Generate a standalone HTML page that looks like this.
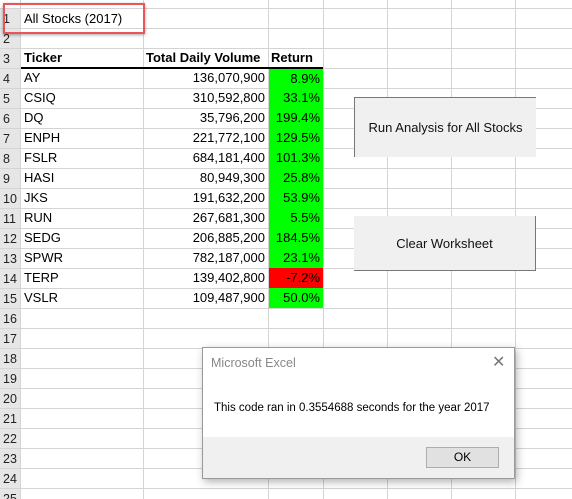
<!DOCTYPE html>
<html style="width:572px;height:499px;overflow:hidden;"><head><meta charset="utf-8"><style>
body{margin:0;width:572px;height:499px;overflow:hidden;background:#fff;position:relative;font-family:"Liberation Sans",Calibri,sans-serif;}
.a{position:absolute;}
.hl{position:absolute;background:#d4d4d4;height:1px;}
.vl{position:absolute;background:#d4d4d4;width:1px;}
.cell{position:absolute;font-size:13px;line-height:20px;height:20px;color:#000;white-space:nowrap;}
.rh{position:absolute;left:0;width:20px;height:19px;background:#e6e6e6;font-size:12.5px;line-height:20px;color:#222;padding-left:3px;box-sizing:border-box;}
.btn{position:absolute;background:#f0f0f0;font-size:13px;text-align:center;color:#111;}
</style></head><body>
<div id="sheet" style="position:absolute;left:0;top:0;width:572px;height:499px;overflow:hidden;"></div>
<div class="a" style="left:3px;top:3px;width:142px;height:31px;border:2px solid #e85656;box-shadow:0 1px 3px rgba(0,0,0,.35);box-sizing:border-box;"></div>
<div class="btn" style="left:354px;top:97px;width:182px;height:60px;line-height:60px;border-left:1px solid #777;border-top:1px solid #777;box-sizing:border-box;">Run Analysis for All Stocks</div>
<div class="btn" style="left:354px;top:216px;width:182px;height:55px;line-height:55px;border-right:1px solid #777;border-bottom:1px solid #777;box-sizing:border-box;">Clear Worksheet</div>
<div class="a" style="left:202px;top:347px;width:313px;height:132px;background:#fff;border:1px solid #9a9a9a;box-shadow:2px 3px 8px rgba(0,0,0,.3);box-sizing:border-box;">
  <div class="a" style="left:8px;top:8px;font-size:12.5px;color:#888;">Microsoft Excel</div>
  <div class="a" style="left:289px;top:4px;font-size:16px;color:#777;">✕</div>
  <div class="a" style="left:11px;top:54px;font-size:11.5px;color:#000;">This code ran in 0.3554688 seconds for the year 2017</div>
  <div class="a" style="left:0;top:89px;width:311px;height:41px;background:#f0f0f0;"></div>
  <div class="a" style="left:223px;top:99px;width:73px;height:21px;background:#e1e1e1;border:1px solid #adadad;box-sizing:border-box;text-align:center;font-size:12px;line-height:19px;">OK</div>
</div>
<script>
const tickers=["AY","CSIQ","DQ","ENPH","FSLR","HASI","JKS","RUN","SEDG","SPWR","TERP","VSLR"];
const volumes=["136,070,900","310,592,800","35,796,200","221,772,100","684,181,400","80,949,300","191,632,200","267,681,300","206,885,200","782,187,000","139,402,800","109,487,900"];
const returns=["8.9%","33.1%","199.4%","129.5%","101.3%","25.8%","53.9%","5.5%","184.5%","23.1%","-7.2%","50.0%"];
const colX=[20,143,268,323,387,451,515,572];
const sheet=document.getElementById('sheet');
function rowTop(n){return 20*n-12;}
function add(html){const d=document.createElement('div');d.innerHTML=html;const e=d.firstChild;sheet.appendChild(e);return e;}
for(let n=1;n<=25;n++){
  const e=add('<div class="hl"></div>');e.style.left='0px';e.style.top=rowTop(n)+'px';e.style.width='572px';
  
  
}
for(const x of colX){
  const e=add('<div class="vl"></div>');e.style.left=x+'px';e.style.top='0px';e.style.height='499px';
  
  
}
for(let n=1;n<=25;n++){
  const e=add('<div class="rh"></div>');e.style.top=(rowTop(n)+1)+'px';e.textContent=n;
  
  
}
function cell(txt,x,w,n,align,extra){
  const e=add('<div class="cell"></div>');
  e.style.left=x+'px';e.style.width=w+'px';e.style.top=rowTop(n)+'px';e.style.textAlign=align;
  e.style.paddingLeft='3px';e.style.paddingRight='3px';e.style.boxSizing='border-box';
  if(extra)Object.assign(e.style,extra);
  e.textContent=txt;return e;
}
let t=cell("All Stocks (2017)",21,122,1,'left',{height:'20px',lineHeight:'22px'});


const hdr=[["Ticker",21,122,'left'],["Total Daily Volume",143,125,'left'],["Return",268,55,'left']];
for(const h of hdr){const e=cell(h[0],h[1],h[2],3,h[3],{fontWeight:'bold'});
  
  }
const bl=add('<div class="a"></div>');Object.assign(bl.style,{left:'21px',top:'67px',width:'302px',height:'2px',background:'#000'});


tickers.forEach((tk,i)=>{
  const n=4+i;
  const a=cell(tk,21,122,n,'left');
  
  
  const b=cell(volumes[i],143,125,n,'right');
  
  
  const neg=parseFloat(returns[i])<0;
  const c=cell(returns[i],269,54,n,'right',{background:neg?'#ff0000':'#00ff00',height:'20px',top:(rowTop(n)+(i==0?1:0))+'px'});
  
  
});
</script>
</body></html>
